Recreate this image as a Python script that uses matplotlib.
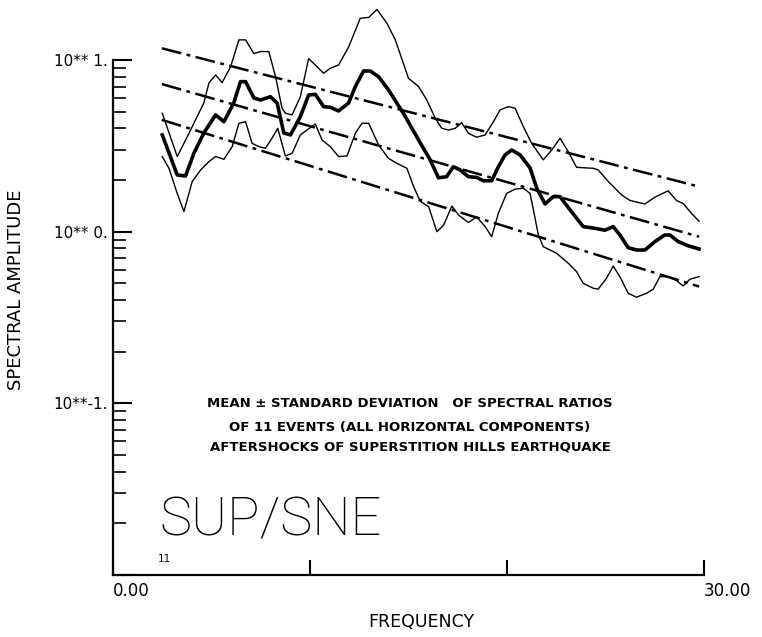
import numpy as np
import matplotlib
matplotlib.use("Agg")
import matplotlib.pyplot as plt
from matplotlib.ticker import LogLocator, NullFormatter

# spectral ratio SUP/SNE (frequency in Hz, amplitude)
mean_f = [2.50, 3.26, 3.68, 4.11, 4.61, 5.21, 5.63, 6.13, 6.47, 6.73, 7.15, 7.49, 7.99,
          8.33, 8.67, 9.01, 9.51, 9.93, 10.27, 10.69, 11.03, 11.45, 11.96, 12.30, 12.72,
          13.06, 13.48, 13.99, 14.84, 15.51, 16.10, 16.52, 16.93, 17.28, 17.62, 18.04,
          18.46, 18.80, 19.22, 19.56, 19.90, 20.24, 20.66, 21.17, 21.51, 21.93, 22.35,
          22.69, 23.20, 23.87, 24.38, 24.97, 25.39, 25.73, 26.15, 26.57, 27.00, 27.51,
          28.01, 28.27, 28.69, 29.19, 29.75]
mean_a = [3.66, 2.14, 2.11, 2.87, 3.76, 4.79, 4.37, 5.62, 7.48, 7.48, 6.01, 5.85, 6.11,
          5.62, 3.76, 3.66, 4.68, 6.25, 6.31, 5.35, 5.30, 5.05, 5.62, 7.00, 8.63,
          8.63, 8.00, 6.68, 4.68, 3.42, 2.62, 2.06, 2.09, 2.39, 2.29, 2.09,
          2.07, 1.98, 1.98, 2.39, 2.80, 2.99, 2.80, 2.35, 1.79, 1.45, 1.60,
          1.60, 1.34, 1.07, 1.05, 1.02, 1.07, 0.957, 0.807, 0.782, 0.782, 0.875,
          0.957, 0.957, 0.875, 0.828, 0.793]

upper_f = [2.50, 3.26, 3.77, 4.27, 4.61, 4.87, 5.21, 5.54, 5.97, 6.39, 6.73, 7.15, 7.49,
           7.91, 8.25, 8.58, 8.75, 9.09, 9.51, 9.93, 10.27, 10.69, 11.03, 11.45, 11.96,
           12.55, 12.98, 13.40, 13.90, 14.33, 15.00, 15.51, 15.93, 16.36, 16.69, 17.03,
           17.37, 17.70, 18.04, 18.46, 18.89, 19.31, 19.65, 20.07, 20.41, 20.83, 21.25,
           21.84, 22.27, 22.69, 23.11, 23.53, 24.38, 24.63, 25.14, 25.81, 26.24, 27.00,
           27.51, 28.18, 28.60, 28.94, 29.36, 29.75]
upper_a = [4.90, 2.74, 3.57, 4.68, 5.62, 7.35, 8.18, 7.38, 9.14, 13.1, 13.1, 10.9, 11.2,
           11.2, 8.00, 5.24, 4.90, 4.79, 6.11, 10.2, 9.35, 8.37, 8.95, 9.35, 11.9,
           17.5, 17.7, 19.7, 16.4, 13.1, 7.82, 7.00, 5.85, 4.57, 4.00, 3.91,
           4.00, 4.31, 3.74, 3.55, 3.66, 4.37, 5.12, 5.35, 5.24, 4.09, 3.27,
           2.62, 2.99, 3.50, 2.92, 2.37, 2.34, 2.29, 1.96, 1.64, 1.52, 1.45,
           1.59, 1.73, 1.52, 1.46, 1.28, 1.15]

lower_f = [2.50, 2.84, 3.26, 3.60, 4.02, 4.45, 4.87, 5.21, 5.63, 6.05, 6.39, 6.73, 7.06,
           7.40, 7.74, 8.07, 8.36, 8.75, 9.09, 9.51, 9.85, 10.27, 10.61, 11.03, 11.45,
           11.88, 12.30, 12.64, 12.98, 13.48, 13.99, 14.41, 14.92, 15.26, 15.60, 16.02,
           16.44, 16.78, 17.20, 17.54, 18.04, 18.46, 18.89, 19.22, 19.56, 19.98, 20.41,
           20.83, 21.17, 21.34, 21.59, 21.84, 22.52, 23.11, 23.53, 23.87, 24.38, 24.63,
           25.05, 25.39, 25.73, 26.15, 26.57, 27.08, 27.42, 27.76, 28.18, 28.60, 28.94,
           29.28, 29.75]
lower_a = [2.74, 2.34, 1.67, 1.31, 1.96, 2.29, 2.56, 2.74, 2.64, 3.13, 4.28, 4.37, 3.27,
           3.13, 3.06, 3.50, 4.00, 2.76, 2.86, 3.66, 3.91, 4.24, 3.42, 3.13, 2.74,
           2.76, 3.74, 4.28, 4.28, 3.20, 2.67, 2.50, 2.34, 1.83, 1.50, 1.40,
           1.00, 1.09, 1.41, 1.25, 1.13, 1.22, 1.07, 0.935, 1.28, 1.67, 1.77,
           1.79, 1.67, 1.34, 0.957, 0.818, 0.748, 0.655, 0.585, 0.500, 0.468, 0.463,
           0.535, 0.631, 0.547, 0.438, 0.415, 0.438, 0.462, 0.547, 0.547, 0.519, 0.483,
           0.528, 0.547]

# straight (in log) fits drawn dash-dot
trend_f = [2.48, 29.75]
trend_hi = [11.7, 1.83]
trend_mid = [7.24, 0.935]
trend_lo = [4.48, 0.479]

ytick_vals = [0.01, 0.1, 1, 10]
ytick_text = ["", "10**-1.", "10** 0.", "10** 1."]
xtick_vals = [0, 10, 20, 30]
xtick_text = ["0.00", "", "", "30.00"]

fig = plt.figure(figsize=(7.62, 6.37), dpi=100)
ax = fig.add_axes([0.1483, 0.0973, 0.7756, 0.8085])

ax.set_yscale("log")
ax.set_xlim(0, 30)
ax.set_ylim(0.01, 10)
ax.spines["top"].set_visible(False)
ax.spines["right"].set_visible(False)
ax.spines["left"].set_linewidth(1.6)
ax.spines["bottom"].set_linewidth(1.6)

# curves
ax.plot(upper_f, upper_a, color="black", lw=1.0, clip_on=False)
ax.plot(lower_f, lower_a, color="black", lw=1.0, clip_on=False)
ax.plot(mean_f, mean_a, color="black", lw=2.6, solid_joinstyle="round", clip_on=False)
for trend in (trend_hi, trend_mid, trend_lo):
    ax.plot(trend_f, trend, color="black", lw=1.8, ls=(0, (8, 2.2, 1.5, 2.2)), clip_on=False)

# ticks
ax.set_yticks(ytick_vals)
ax.set_yticklabels(ytick_text)
ax.yaxis.set_minor_locator(LogLocator(base=10, subs=np.arange(2, 10)))
ax.yaxis.set_minor_formatter(NullFormatter())
ax.tick_params(axis="y", which="major", direction="in", length=14, width=1.5, pad=4, labelsize=11)
ax.tick_params(axis="y", which="minor", direction="in", length=9, width=1.2)
ax.set_xticks(xtick_vals)
ax.set_xticklabels(xtick_text)
ax.tick_params(axis="x", direction="in", length=11, width=1.5, pad=5, labelsize=12)
for lbl in ax.get_xticklabels():
    lbl.set_horizontalalignment("left")

# annotations
ax.text(0.5025, 0.334, "MEAN \u00b1 STANDARD DEVIATION   OF SPECTRAL RATIOS", transform=ax.transAxes,
        ha="center", va="center", fontsize=9.5, fontweight="bold")
ax.text(0.5025, 0.287, "OF 11 EVENTS (ALL HORIZONTAL COMPONENTS)", transform=ax.transAxes,
        ha="center", va="center", fontsize=9.5, fontweight="bold")
ax.text(0.5025, 0.2485, "AFTERSHOCKS OF SUPERSTITION HILLS EARTHQUAKE", transform=ax.transAxes,
        ha="center", va="center", fontsize=9.5, fontweight="bold")
ax.text(0.0795, 0.0777, "SUP/SNE", transform=ax.transAxes, va="baseline", ha="left",
        fontsize=39, family="Roboto", fontweight=100)
ax.text(0.076, 0.031, "11", transform=ax.transAxes, va="center", ha="left", fontsize=7.5)

fig.text(0.021, 0.545, "SPECTRAL AMPLITUDE", rotation=90, ha="center", va="center", fontsize=13)
fig.text(0.5525, 0.0235, "FREQUENCY", ha="center", va="center", fontsize=12.5)

fig.savefig("out.png", dpi=100)
